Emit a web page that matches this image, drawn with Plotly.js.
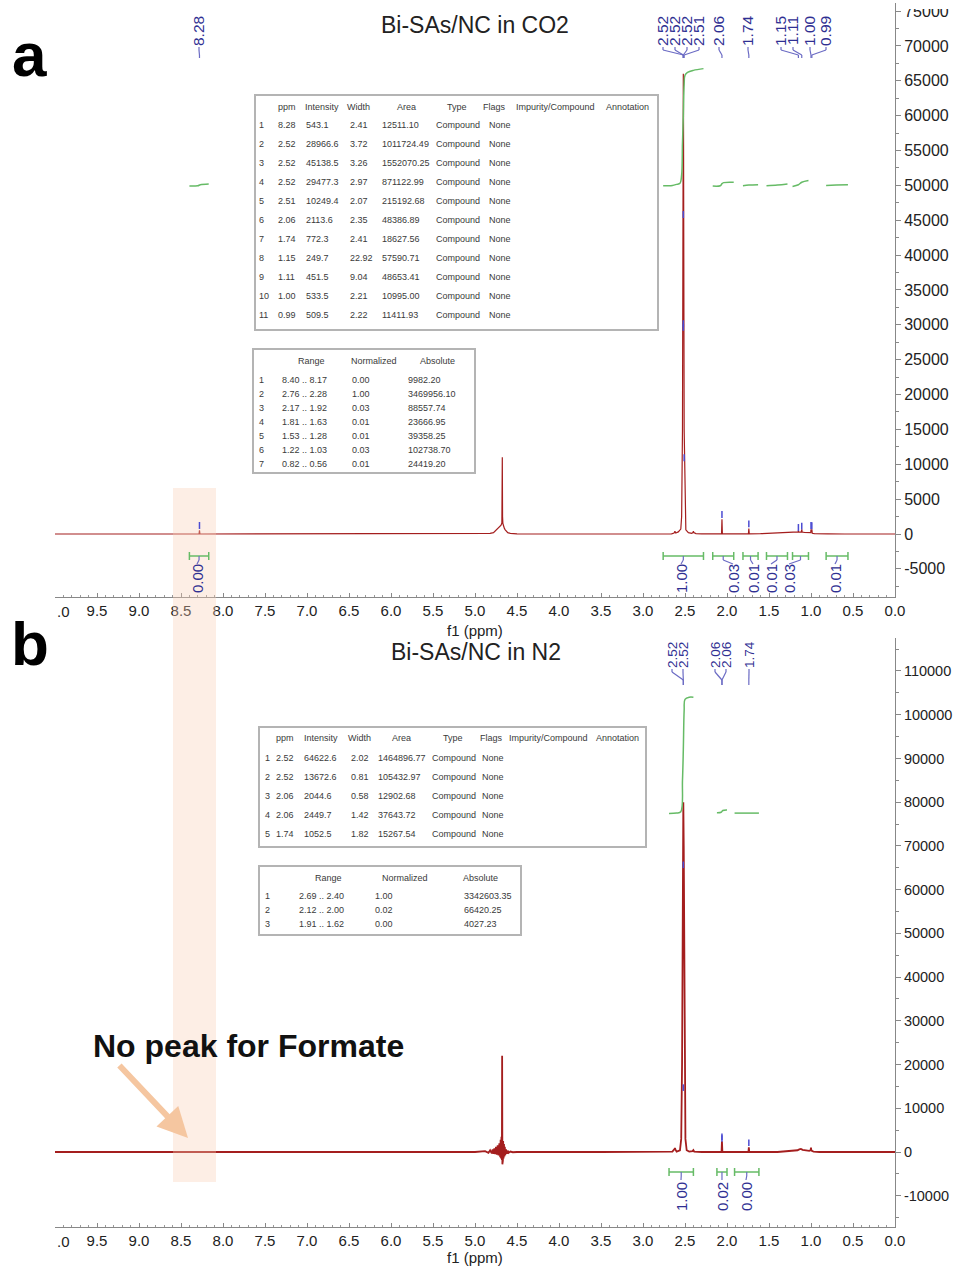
<!DOCTYPE html>
<html><head><meta charset="utf-8">
<script src="https://cdn.plot.ly/plotly-3.0.1.min.js"></script>
<style>html,body{margin:0;padding:0;background:#fff}#chart{width:958px;height:1268px}</style>
</head><body><div id="chart"></div>
<script>
// ================= DATA =================
// Panel a spectrum (Bi-SAs/NC in CO2)
const specA_ppm = [10.0,8.60,8.30,8.285,8.28,8.275,8.26,6.50,5.20,4.90,4.82,4.78,4.76,4.74,4.72,4.70,4.69,4.68,4.675,4.672,4.668,4.66,4.65,4.64,4.63,4.61,4.58,4.50,3.50,2.80,2.66,2.63,2.62,2.61,2.58,2.55,2.54,2.53,2.522,2.52,2.518,2.51,2.50,2.49,2.46,2.42,2.405,2.40,2.395,2.37,2.30,2.10,2.065,2.06,2.055,1.90,1.745,1.74,1.735,1.60,1.45,1.30,1.20,1.16,1.152,1.15,1.148,1.13,1.115,1.11,1.105,1.08,1.04,1.01,1.003,1.00,0.995,0.99,0.985,0.96,0.90,0.80,0.60,0.00];
const specA_int = [0,0,0,10,543,10,0,0,10,30,80,200,420,650,850,1050,1250,1600,11000,2500,1500,1000,800,600,400,200,80,20,0,0,30,150,380,150,300,700,2500,15000,60000,66000,60000,15000,2500,600,200,100,200,420,200,50,20,10,20,2114,20,10,15,772,15,40,100,180,240,270,300,480,300,280,300,650,280,230,160,120,200,680,220,660,110,60,30,10,0,0];
// Panel b spectrum (Bi-SAs/NC in N2)
const specB_ppm = [10.0,8.0,6.0,5.0,4.88,4.84,4.82,4.80,4.79,4.78,4.77,4.76,4.75,4.74,4.73,4.72,4.71,4.70,4.695,4.69,4.685,4.68,4.677,4.674,4.671,4.668,4.665,4.66,4.655,4.65,4.645,4.64,4.63,4.62,4.61,4.60,4.58,4.55,4.50,3.50,2.80,2.65,2.625,2.62,2.615,2.60,2.56,2.545,2.535,2.525,2.52,2.515,2.505,2.495,2.48,2.45,2.41,2.40,2.39,2.30,2.065,2.06,2.055,1.745,1.74,1.735,1.40,1.20,1.16,1.14,1.12,1.10,1.06,1.02,1.005,1.00,0.995,0.97,0.90,0.50,0.00];
const specB_int = [0,0,0,0,200,-200,400,-300,600,-400,800,-500,1200,-600,1500,-800,2000,-1200,2800,-1500,3500,-1800,22000,-2800,1500,-2000,2500,-1500,1800,-1000,1200,-700,600,-400,300,-200,100,-50,0,0,0,100,700,900,600,100,400,3000,20000,70000,80000,70000,20000,3000,400,100,200,450,100,0,0,2450,0,0,1050,0,0,200,400,600,700,500,300,250,400,1000,300,100,0,0,0];

// Peak tables
const pickA_ppm   = [8.28,2.52,2.52,2.52,2.51,2.06,1.74,1.15,1.11,1.00,0.99];
const pickA_int   = [543.1,28966.6,45138.5,29477.3,10249.4,2113.6,772.3,249.7,451.5,533.5,509.5];
const pickA_width = [2.41,3.72,3.26,2.97,2.07,2.35,2.41,22.92,9.04,2.21,2.22];
const pickA_area  = [12511.10,1011724.49,1552070.25,871122.99,215192.68,48386.89,18627.56,57590.71,48653.41,10995.00,11411.93];
const pickB_ppm   = [2.52,2.52,2.06,2.06,1.74];
const pickB_int   = [64622.6,13672.6,2044.6,2449.7,1052.5];
const pickB_width = [2.02,0.81,0.58,1.42,1.82];
const pickB_area  = [1464896.77,105432.97,12902.68,37643.72,15267.54];
const pickType = "Compound", pickFlag = "None";

// Integration tables
const intA_from = [8.40,2.76,2.17,1.81,1.53,1.22,0.82];
const intA_to   = [8.17,2.28,1.92,1.63,1.28,1.03,0.56];
const intA_norm = [0.00,1.00,0.03,0.01,0.01,0.03,0.01];
const intA_abs  = [9982.20,3469956.10,88557.74,23666.95,39358.25,102738.70,24419.20];
const intB_from = [2.69,2.12,1.91];
const intB_to   = [2.40,2.00,1.62];
const intB_norm = [1.00,0.02,0.00];
const intB_abs  = [3342603.35,66420.25,4027.23];

// Integral curves
const curveA_ppm = [[8.40,8.30,8.27,8.17],[2.76,2.65,2.60,2.56,2.54,2.53,2.52,2.51,2.50,2.47,2.40,2.28],[2.17,2.08,2.06,2.04,1.92],[1.81,1.74,1.63],[1.53,1.40,1.28],[1.22,1.15,1.11,1.03],[0.82,0.70,0.56]];
const curveA_val = [[49900,49950,50100,50200],[49950,50000,50150,50300,51500,56000,60000,64500,65800,66200,66500,66750],[49900,49950,50250,50400,50450],[49950,50050,50100],[49950,50050,50200],[49850,50100,50450,50700],[50000,50050,50100]];
const curveB_ppm = [[2.69,2.60,2.55,2.53,2.52,2.51,2.50,2.45,2.40],[2.12,2.07,2.05,2.00],[1.91,1.80,1.62]];
const curveB_val = [[77400,77500,77800,85000,92000,101000,103500,104000,104000],[77600,77700,78100,78200],[77500,77500,77500]];

// Tick labels
const xTicks  = [10.0,9.5,9.0,8.5,8.0,7.5,7.0,6.5,6.0,5.5,5.0,4.5,4.0,3.5,3.0,2.5,2.0,1.5,1.0,0.5,0.0];
const xEdgeLabel = ".0";   // the "10.0" label is cut at the left edge of the figure
const yTicksA = [-5000,0,5000,10000,15000,20000,25000,30000,35000,40000,45000,50000,55000,60000,65000,70000,75000];
const yTicksB = [-10000,0,10000,20000,30000,40000,50000,60000,70000,80000,90000,100000,110000];

const titleA = "Bi-SAs/NC in CO2", titleB = "Bi-SAs/NC in N2";
const xTitle = "f1 (ppm)";
const note = "No peak for Formate";

// ================= LAYOUT HELPERS =================
const W = 958, H = 1268;
const fx = px => px / W;
const fy = py => 1 - py / H;
const PX0 = 55, PX1 = 895;                 // plot area in px
const px2ppm = px => 10 - (px - PX0) * 10 / (PX1 - PX0);

const NAVY = '#2f2f92', LINK = '#6b6bc4', GREEN = '#66bb66', RED = '#a41e1e', MARK = '#4b4bd2';
const FONT = 'Liberation Sans, Arial, sans-serif';

const traces = [];
traces.push({x: specA_ppm, y: specA_int, xaxis: 'x', yaxis: 'y', mode: 'lines', line: {color: RED, width: 1.2}, hoverinfo: 'skip'});
traces.push({x: specB_ppm, y: specB_int, xaxis: 'x2', yaxis: 'y2', mode: 'lines', line: {color: RED, width: 1.8}, hoverinfo: 'skip'});
curveA_ppm.forEach((p, i) => traces.push({x: p, y: curveA_val[i], xaxis: 'x', yaxis: 'y', mode: 'lines', line: {color: GREEN, width: 1.5, shape: 'spline'}, hoverinfo: 'skip'}));
curveB_ppm.forEach((p, i) => traces.push({x: p, y: curveB_val[i], xaxis: 'x2', yaxis: 'y2', mode: 'lines', line: {color: GREEN, width: 1.5, shape: 'spline'}, hoverinfo: 'skip'}));

const shapes = [];
const ann = [];

// shaded column
shapes.push({type: 'rect', xref: 'paper', yref: 'paper', x0: fx(173), x1: fx(216), y0: fy(1182), y1: fy(488), fillcolor: 'rgba(250,205,180,0.35)', line: {width: 0}, layer: 'above'});

// peak pick markers
pickA_ppm.forEach((p, i) => shapes.push({type: 'line', xref: 'x', yref: 'y', x0: p, x1: p, y0: pickA_int[i] + 180, y1: pickA_int[i] + 1180, line: {color: MARK, width: 1.5}}));
pickB_ppm.forEach((p, i) => shapes.push({type: 'line', xref: 'x2', yref: 'y2', x0: p, x1: p, y0: pickB_int[i] + 300, y1: pickB_int[i] + 1800, line: {color: MARK, width: 1.5}}));

// peak labels on top
function peakLabels(ppms, labelPx, xr, yText, fontSize, yTop, yKnee, yConv, yEnd) {
  ppms.forEach((p, i) => {
    const lx = px2ppm(labelPx[i]);
    ann.push({xref: xr, yref: 'paper', x: lx, y: fy(yText), text: p.toFixed(2), showarrow: false, textangle: -90,
      xanchor: 'center', yanchor: 'middle', font: {family: FONT, size: fontSize, color: NAVY}});
    const L = {color: LINK, width: 1.2};
    shapes.push({type: 'line', xref: xr, yref: 'paper', x0: lx, x1: lx, y0: fy(yTop), y1: fy(yKnee), line: L});
    shapes.push({type: 'line', xref: xr, yref: 'paper', x0: lx, x1: p, y0: fy(yKnee), y1: fy(yConv), line: L});
    shapes.push({type: 'line', xref: xr, yref: 'paper', x0: p, x1: p, y0: fy(yConv), y1: fy(yEnd), line: L});
  });
}
peakLabels(pickA_ppm, [199, 663, 675, 687, 699, 719, 748, 781, 793, 810, 826], 'x', 31, 15.5, 47, 50, 55, 58);
peakLabels(pickB_ppm, [672, 683, 715, 726, 749], 'x2', 655, 13.5, 669, 672, 680, 685);

// integration brackets below
function integrals(from, to, norm, labelPx, xr, yBr, yLab) {
  from.forEach((f, i) => {
    const t = to[i], mid = (f + t) / 2, lx = px2ppm(labelPx[i]);
    const G = {color: GREEN, width: 1.5}, L = {color: LINK, width: 1.2};
    shapes.push({type: 'line', xref: xr, yref: 'paper', x0: f, x1: t, y0: fy(yBr), y1: fy(yBr), line: G});
    shapes.push({type: 'line', xref: xr, yref: 'paper', x0: f, x1: f, y0: fy(yBr - 4), y1: fy(yBr + 4), line: G});
    shapes.push({type: 'line', xref: xr, yref: 'paper', x0: t, x1: t, y0: fy(yBr - 4), y1: fy(yBr + 4), line: G});
    shapes.push({type: 'line', xref: xr, yref: 'paper', x0: mid, x1: mid, y0: fy(yBr), y1: fy(yBr + 4), line: L});
    shapes.push({type: 'line', xref: xr, yref: 'paper', x0: mid, x1: lx, y0: fy(yBr + 4), y1: fy(yBr + 8), line: L});
    ann.push({xref: xr, yref: 'paper', x: lx, y: fy(yLab), text: norm[i].toFixed(2), showarrow: false, textangle: -90,
      xanchor: 'center', yanchor: 'middle', font: {family: FONT, size: 15, color: NAVY}});
  });
}
integrals(intA_from, intA_to, intA_norm, [197, 681, 733, 753, 771, 789, 835], 'x', 556, 579);
integrals(intB_from, intB_to, intB_norm, [681, 722, 746], 'x2', 1172, 1197);

// tables
const TF = {family: FONT, size: 9, color: '#3a3a3a'};
function cell(px, py, text, anchor) {
  ann.push({xref: 'paper', yref: 'paper', x: fx(px), y: fy(py), text: text, showarrow: false, xanchor: anchor || 'left', yanchor: 'middle', font: TF});
}
function box(x0, y0, x1, y1) {
  shapes.push({type: 'rect', xref: 'paper', yref: 'paper', x0: fx(x0), x1: fx(x1), y0: fy(y1), y1: fy(y0), fillcolor: '#fff', line: {color: '#b4b4b4', width: 2}, layer: 'above'});
}
function peakTable(b, hdrY, hdrX, rowY0, dy, colX, ppm, inten, width, area) {
  box(...b);
  const hdr = ['ppm', 'Intensity', 'Width', 'Area', 'Type', 'Flags', 'Impurity/Compound', 'Annotation'];
  hdr.forEach((h, i) => cell(hdrX[i], hdrY, h, 'center'));
  ppm.forEach((p, i) => {
    const y = rowY0 + dy * i;
    cell(colX[0], y, String(i + 1));
    cell(colX[1], y, p.toFixed(2));
    cell(colX[2], y, inten[i].toFixed(1));
    cell(colX[3], y, width[i].toFixed(2));
    cell(colX[4], y, area[i].toFixed(2));
    cell(colX[5], y, pickType);
    cell(colX[6], y, pickFlag);
  });
}
function intTable(b, hdrY, hdrX, rowY0, dy, colX, from, to, norm, abs) {
  box(...b);
  ['Range', 'Normalized', 'Absolute'].forEach((h, i) => cell(hdrX[i], hdrY, h, 'center'));
  from.forEach((f, i) => {
    const y = rowY0 + dy * i;
    cell(colX[0], y, String(i + 1));
    cell(colX[1], y, f.toFixed(2) + ' .. ' + to[i].toFixed(2));
    cell(colX[2], y, norm[i].toFixed(2));
    cell(colX[3], y, abs[i].toFixed(2));
  });
}
peakTable([255, 95, 658, 330], 107, [287, 322, 358, 406, 457, 494, 555, 627], 125, 19, [257, 276, 304, 348, 380, 434, 487], pickA_ppm, pickA_int, pickA_width, pickA_area);
intTable([253, 349, 475, 473], 361, [311, 374, 437], 380, 14, [257, 280, 350, 406], intA_from, intA_to, intA_norm, intA_abs);
peakTable([259, 727, 646, 847], 738, [285, 321, 359, 401, 453, 491, 548, 617], 758, 19, [263, 274, 302, 349, 376, 430, 480], pickB_ppm, pickB_int, pickB_width, pickB_area);
intTable([259, 866, 521, 935], 878, [328, 405, 480], 896, 14, [263, 297, 373, 462], intB_from, intB_to, intB_norm, intB_abs);

// top "75000" label is cut at the top edge
shapes.push({type: 'rect', xref: 'paper', yref: 'paper', x0: fx(898), x1: 1, y0: fy(9), y1: 1, fillcolor: '#fff', line: {width: 0}, layer: 'above'});

// cut "10.0" labels at the left edge
const XL = {family: FONT, size: 15, color: '#222'};
ann.push({xref: 'paper', yref: 'paper', x: fx(55), y: fy(611), text: xEdgeLabel, showarrow: false, xanchor: 'left', yanchor: 'middle', font: XL});
ann.push({xref: 'paper', yref: 'paper', x: fx(55), y: fy(1241), text: xEdgeLabel, showarrow: false, xanchor: 'left', yanchor: 'middle', font: XL});

// titles and labels
ann.push({xref: 'paper', yref: 'paper', x: fx(475), y: fy(25), text: titleA, showarrow: false, xanchor: 'center', yanchor: 'middle', font: {family: FONT, size: 23, color: '#222'}});
ann.push({xref: 'paper', yref: 'paper', x: fx(476), y: fy(652), text: titleB, showarrow: false, xanchor: 'center', yanchor: 'middle', font: {family: FONT, size: 23, color: '#222'}});
ann.push({xref: 'paper', yref: 'paper', x: fx(475), y: fy(630), text: xTitle, showarrow: false, xanchor: 'center', yanchor: 'middle', font: {family: FONT, size: 15, color: '#222'}});
ann.push({xref: 'paper', yref: 'paper', x: fx(475), y: fy(1257), text: xTitle, showarrow: false, xanchor: 'center', yanchor: 'middle', font: {family: FONT, size: 15, color: '#222'}});
ann.push({xref: 'paper', yref: 'paper', x: fx(29), y: fy(55), text: '<b>a</b>', showarrow: false, xanchor: 'center', yanchor: 'middle', font: {family: FONT, size: 62, color: '#000'}});
ann.push({xref: 'paper', yref: 'paper', x: fx(30), y: fy(644), text: '<b>b</b>', showarrow: false, xanchor: 'center', yanchor: 'middle', font: {family: FONT, size: 62, color: '#000'}});
ann.push({xref: 'paper', yref: 'paper', x: fx(249), y: fy(1046), text: '<b>' + note + '</b>', showarrow: false, xanchor: 'center', yanchor: 'middle', font: {family: FONT, size: 32, color: '#111'}});
ann.push({xref: 'paper', yref: 'paper', x: fx(188), y: fy(1138), ax: -70, ay: -74, axref: 'pixel', ayref: 'pixel', text: '', showarrow: true, arrowhead: 2, arrowsize: 1, arrowwidth: 6, arrowcolor: '#f5c6a0', standoff: 0});

const xCommon = {range: [10, 0], showline: true, linecolor: '#888', linewidth: 1, ticks: 'inside', ticklen: 4, tickcolor: '#888',
  tickmode: 'array', tickvals: xTicks, ticktext: xTicks.map(v => v === 10 ? '' : v.toFixed(1)), tickfont: {family: FONT, size: 15, color: '#222'},
  showgrid: false, zeroline: false, minor: {tickmode: 'linear', tick0: 0, dtick: 0.1, ticks: 'inside', ticklen: 2, tickcolor: '#999', showgrid: false},
  domain: [fx(PX0), fx(PX1)], fixedrange: true};
const yCommon = {side: 'right', showline: true, linecolor: '#888', linewidth: 1, ticks: 'outside', ticklen: 5, tickcolor: '#888',
  tickmode: 'array', showgrid: false, zeroline: false, fixedrange: true};

const layout = {
  width: W, height: H, margin: {l: 0, r: 0, t: 0, b: 0}, paper_bgcolor: '#fff', plot_bgcolor: 'rgba(0,0,0,0)',
  showlegend: false, font: {family: FONT},
  xaxis: Object.assign({}, xCommon, {anchor: 'y'}),
  xaxis2: Object.assign({}, xCommon, {anchor: 'y2'}),
  yaxis: Object.assign({}, yCommon, {anchor: 'x', domain: [fy(597), fy(3)], range: [-9036, 76163], tickvals: yTicksA, ticktext: yTicksA.map(String),
    tickfont: {family: FONT, size: 16, color: '#222'}, minor: {tickmode: 'linear', tick0: 0, dtick: 2500, ticks: 'outside', ticklen: 3, tickcolor: '#888', showgrid: false}}),
  yaxis2: Object.assign({}, yCommon, {anchor: 'x2', domain: [fy(1227), fy(638)], range: [-17150, 117540], tickvals: yTicksB, ticktext: yTicksB.map(String),
    tickfont: {family: FONT, size: 14.5, color: '#222'}, minor: {tickmode: 'linear', tick0: 0, dtick: 5000, ticks: 'outside', ticklen: 3, tickcolor: '#888', showgrid: false}}),
  shapes: shapes, annotations: ann
};
Plotly.newPlot('chart', traces, layout, {staticPlot: true, displayModeBar: false});
</script></body></html>
